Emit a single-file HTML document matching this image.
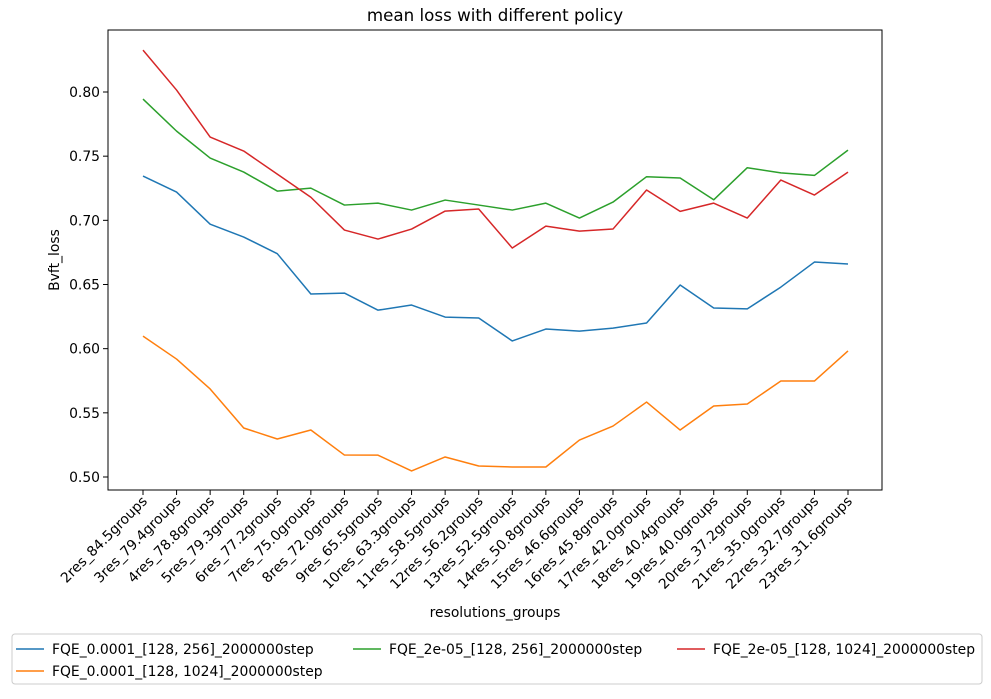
<!DOCTYPE html>
<html><head><meta charset="utf-8"><style>
body{margin:0;background:#fff;}
svg{font-family:"DejaVu Sans","Liberation Sans",sans-serif;}
</style></head><body>
<svg id="chart" width="991" height="694">
<rect width="991" height="694" fill="#fff"/>
<text x="495" y="21" text-anchor="middle" font-size="16.7">mean loss with different policy</text>
<g id="plot"></g>
<rect x="108" y="30" width="774" height="460" fill="none" stroke="#000" stroke-width="1"/>
<text x="495" y="617" text-anchor="middle" font-size="13.9">resolutions_groups</text>
<text transform="translate(59,260) rotate(-90)" text-anchor="middle" font-size="13.9">Bvft_loss</text>
<g>
<rect x="12" y="634" width="970" height="50" rx="3" fill="#fff" stroke="#ccc"/>
<g><line x1="16" x2="44" y1="649" y2="649" stroke="#1f77b4" stroke-width="1.5"/><text x="52" y="654" font-size="13.9">FQE_0.0001_[128, 256]_2000000step</text></g>
<g><line x1="16" x2="44" y1="671" y2="671" stroke="#ff7f0e" stroke-width="1.5"/><text x="52" y="676" font-size="13.9">FQE_0.0001_[128, 1024]_2000000step</text></g>
<g><line x1="353" x2="381" y1="649" y2="649" stroke="#2ca02c" stroke-width="1.5"/><text x="389" y="654" font-size="13.9">FQE_2e-05_[128, 256]_2000000step</text></g>
<g><line x1="677" x2="705" y1="649" y2="649" stroke="#d62728" stroke-width="1.5"/><text x="713" y="654" font-size="13.9">FQE_2e-05_[128, 1024]_2000000step</text></g>
</g>
</svg>
<script>
const categories=["2res_84.5groups","3res_79.4groups","4res_78.8groups","5res_79.3groups","6res_77.2groups","7res_75.0groups","8res_72.0groups","9res_65.5groups","10res_63.3groups","11res_58.5groups","12res_56.2groups","13res_52.5groups","14res_50.8groups","15res_46.6groups","16res_45.8groups","17res_42.0groups","18res_40.4groups","19res_40.0groups","20res_37.2groups","21res_35.0groups","22res_32.7groups","23res_31.6groups"];
const blueValues=[0.7345,0.722,0.697,0.687,0.674,0.6426,0.6433,0.630,0.634,0.6246,0.6239,0.606,0.6153,0.6137,0.616,0.620,0.6496,0.6317,0.631,0.648,0.6675,0.666];
const orangeValues=[0.6098,0.5919,0.5686,0.5382,0.5296,0.5366,0.5171,0.517,0.5047,0.5156,0.5086,0.5078,0.5078,0.5288,0.5397,0.5584,0.5366,0.5553,0.5569,0.5748,0.5748,0.5982];
const greenValues=[0.7945,0.7695,0.7485,0.7376,0.7228,0.7251,0.7119,0.7134,0.708,0.7158,0.7119,0.708,0.7134,0.7018,0.7142,0.734,0.733,0.716,0.741,0.737,0.735,0.7547];
const redValues=[0.8326,0.8015,0.7649,0.754,0.736,0.718,0.6924,0.6854,0.6932,0.7072,0.7088,0.6784,0.6955,0.6916,0.6932,0.7236,0.707,0.7134,0.7018,0.7314,0.7197,0.7376];
const yTicks=[0.50,0.55,0.60,0.65,0.70,0.75,0.80];
const NS="http://www.w3.org/2000/svg";
const plot=document.getElementById('plot');
function xScale(i){return 143+i*(848-143)/(categories.length-1);}
function yScale(v){return 477-(v-0.5)/0.3*(477-92);}
function mk(t,a){const e=document.createElementNS(NS,t);for(const k in a)e.setAttribute(k,a[k]);plot.appendChild(e);return e;}
yTicks.forEach(v=>{
  const y=yScale(v);
  const t=mk('line',{x1:103,x2:108,y1:y,y2:y,stroke:'#000'});
  
  
  const l=mk('text',{x:100,y:y+5,'text-anchor':'end','font-size':'13.9'});
  l.textContent=v.toFixed(2);
  
  
});
categories.forEach((c,i)=>{
  const x=xScale(i);
  const t=mk('line',{x1:x,x2:x,y1:490,y2:495,stroke:'#000'});
  
  
  const l=mk('text',{x:0,y:0,'text-anchor':'end','font-size':'13.9',transform:`translate(${x+5},${502}) rotate(-45)`});
  l.textContent=c;
  
  
});
[[blueValues,'#1f77b4','series-blue'],[orangeValues,'#ff7f0e','series-orange'],[greenValues,'#2ca02c','series-green'],[redValues,'#d62728','series-red']].forEach(([vals,col,name])=>{
  const p=mk('polyline',{points:vals.map((v,i)=>xScale(i)+','+yScale(v)).join(' '),fill:'none',stroke:col,'stroke-width':1.5,'stroke-linejoin':'round'});
  
  
});
</script>
</body></html>
